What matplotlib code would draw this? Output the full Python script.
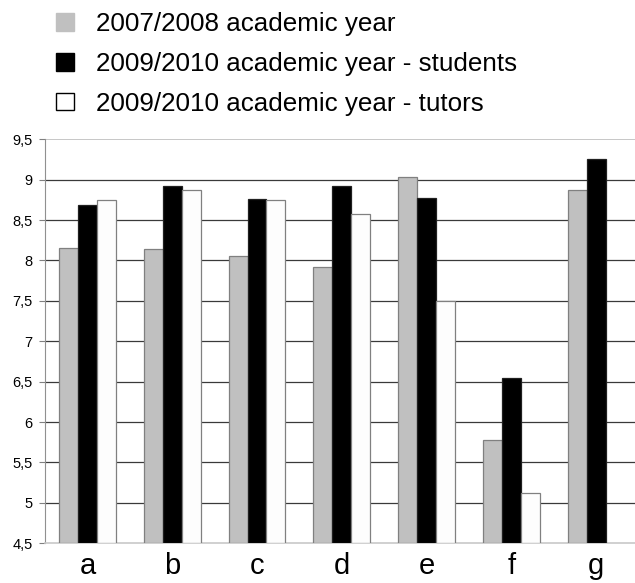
import matplotlib
matplotlib.use('Agg')
import matplotlib.pyplot as plt
from matplotlib.patches import Patch
import numpy as np

categories = ['a', 'b', 'c', 'd', 'e', 'f', 'g']
year_0708 = [8.16, 8.14, 8.05, 7.92, 9.03, 5.78, 8.87]
students_0910 = [8.69, 8.92, 8.76, 8.92, 8.77, 6.55, 9.25]
tutors_0910 = [8.75, 8.87, 8.75, 8.57, 7.50, 5.12, np.nan]
series_labels = ['2007/2008 academic year',
                 '2009/2010 academic year - students',
                 '2009/2010 academic year - tutors']
yticks = [4.5, 5, 5.5, 6, 6.5, 7, 7.5, 8, 8.5, 9, 9.5]

plt.rcParams['font.family'] = ['Liberation Sans', 'DejaVu Sans']

W, H = 635, 583
fig = plt.figure(figsize=(W / 100, H / 100), dpi=100)
ax = fig.add_axes([45 / W, (H - 543.3) / H, (638.7 - 45) / W, (543.3 - 139.3) / H])

x = np.arange(len(categories))
bw = 0.223
fills = ['#c0c0c0', '#000000', '#fdfdfd']
edges = ['#808080', '#202020', '#808080']
for i, vals in enumerate([year_0708, students_0910, tutors_0910]):
    ax.bar(x + (i - 1) * bw, np.array(vals) - 4.5, bw, bottom=4.5,
           color=fills[i], edgecolor=edges[i], linewidth=0.9, zorder=3)

ax.set_xlim(-0.5, len(categories) - 0.5)
ax.set_ylim(4.5, 9.5)
ax.set_yticks(yticks)
ax.set_yticklabels([f'{v:g}'.replace('.', ',') for v in yticks], fontsize=10.5)
for v in yticks[1:-1]:
    ax.axhline(v, color='#3a3a3a', linewidth=0.9, zorder=1)
ax.axhline(9.5, color='#bdbdbd', linewidth=1.2, zorder=1)

ax.set_xticks(x)
ax.set_xticklabels(categories, fontsize=21)
ax.tick_params(axis='x', length=0, pad=6)
ax.tick_params(axis='y', length=4, width=0.8, color='#808080', pad=5)

for s in ['top', 'right']:
    ax.spines[s].set_visible(False)
ax.spines['left'].set_color('#909090')
ax.spines['bottom'].set_color('#c8c8c8')
ax.spines['bottom'].set_linewidth(1.2)

handles = [Patch(facecolor='#c0c0c0', edgecolor='#c0c0c0'),
           Patch(facecolor='#000000', edgecolor='#000000'),
           Patch(facecolor='#ffffff', edgecolor='#000000', linewidth=1.0)]
fig.legend(handles, series_labels, loc='upper left',
           bbox_to_anchor=(46 / W, 1.0 - 2 / H), frameon=False,
           fontsize=18.7, handlelength=0.68, handleheight=0.68,
           handletextpad=0.85, labelspacing=0.6, borderaxespad=0.0)

fig.savefig('out.png', dpi=100)
